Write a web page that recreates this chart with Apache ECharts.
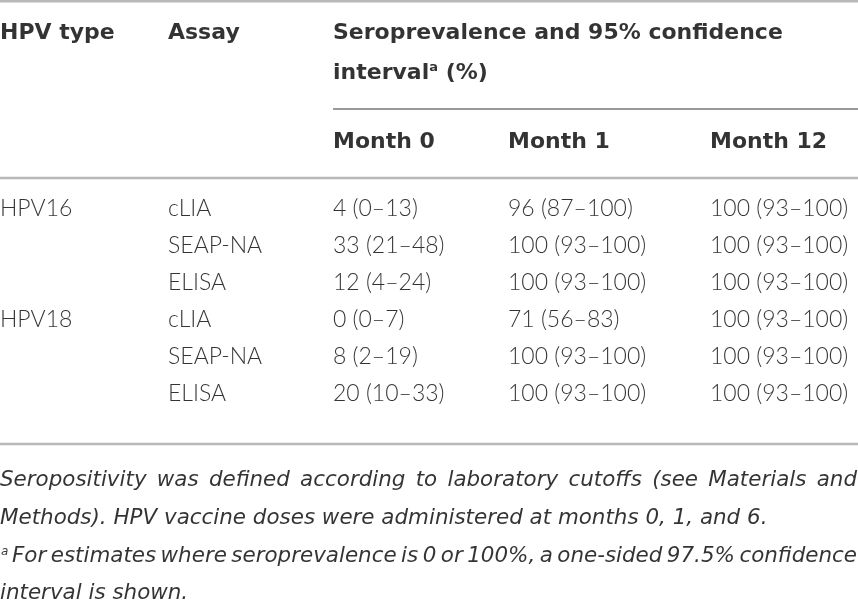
<!DOCTYPE html>
<html>
<head>
<meta charset="utf-8">
<script src="https://cdn.jsdelivr.net/npm/echarts@6/dist/echarts.min.js"></script>
<style>
  html, body { margin: 0; padding: 0; background: #fff; }
  #chart { width: 858px; height: 602px; }
</style>
</head>
<body>
<div id="chart"></div>
<script>
// table content
const hpvTypes = ["HPV16", "", "", "HPV18", "", ""];
const assays = ["cLIA", "SEAP-NA", "ELISA", "cLIA", "SEAP-NA", "ELISA"];
const monthLabels = ["Month 0", "Month 1", "Month 12"];

const month0Est = [4, 33, 12, 0, 8, 20];
const month0Lo = [0, 21, 4, 0, 2, 10];
const month0Hi = [13, 48, 24, 7, 19, 33];
const month1Est = [96, 100, 100, 71, 100, 100];
const month1Lo = [87, 93, 93, 56, 93, 93];
const month1Hi = [100, 100, 100, 83, 100, 100];
const month12Est = [100, 100, 100, 100, 100, 100];
const month12Lo = [93, 93, 93, 93, 93, 93];
const month12Hi = [100, 100, 100, 100, 100, 100];

const footLine1 = "Seropositivity was defined according to laboratory cutoffs (see Materials and";
const footLine2 = "Methods). HPV vaccine doses were administered at months 0, 1, and 6.";
const footLine3 = "For estimates where seroprevalence is 0 or 100%, a one-sided 97.5% confidence";
const footLine4 = "interval is shown.";

// layout
const W = 858, H = 602;
const colX = [0, 168, 333, 508, 710];
const rowY0 = 209, rowStep = 37;
const bodyFont = "Lato";
const headFont = "'DejaVu Sans'";
const footFont = "'DejaVu Sans'";

function fmt(e, lo, hi) {
  return e + " (" + lo + "\u2013" + hi + ")";
}

const cells = [];
function cell(x, y, text, kind) {
  cells.push({ value: [x, y], text: text, kind: kind });
}

cell(colX[0], 33, "HPV type", "head");
cell(colX[1], 33, "Assay", "head");
cell(colX[2], 33, "Seroprevalence and 95% confidence", "head");
cell(colX[2], 73, "interval{sup|a} (%)", "head");
monthLabels.forEach((m, i) => cell(colX[i + 2], 142, m, "head"));

for (let r = 0; r < assays.length; r++) {
  let y = rowY0 + r * rowStep;
  if (hpvTypes[r]) cell(colX[0], y, hpvTypes[r], "body");
  cell(colX[1], y, assays[r], "body");
  cell(colX[2], y, fmt(month0Est[r], month0Lo[r], month0Hi[r]), "body");
  cell(colX[3], y, fmt(month1Est[r], month1Lo[r], month1Hi[r]), "body");
  cell(colX[4], y, fmt(month12Est[r], month12Lo[r], month12Hi[r]), "body");
}

// footnote: size the font so the unjustified second line ends where the original does
const ctx = document.createElement("canvas").getContext("2d");
function footCss(size) { return "italic 200 " + size + "px " + footFont; }
ctx.font = footCss(20);
const footSize = Math.min(22, 20 * 768 / ctx.measureText(footLine2).width);

function placeLine(text, x0, x1, y, justify) {
  ctx.font = footCss(footSize);
  const words = text.split(" ");
  const widths = words.map((w) => ctx.measureText(w).width);
  const total = widths.reduce((a, b) => a + b, 0);
  const space = ctx.measureText(" ").width;
  const gap = justify ? Math.max(space * 0.5, (x1 - x0 - total) / (words.length - 1)) : space;
  let x = x0;
  words.forEach((w, i) => {
    cell(x, y, w, "foot");
    x += widths[i] + gap;
  });
}
placeLine(footLine1, 0, W - 1, 480, true);
placeLine(footLine2, 0, W, 518, false);
cell(1, 552, "a", "footsup");
placeLine(footLine3, 12, W - 1, 556, true);
placeLine(footLine4, 0, W, 593, false);

const styles = {
  head: { fontFamily: headFont, fontWeight: "bold", fontSize: 22, color: "#000" },
  body: { fontFamily: bodyFont, fontWeight: 300, fontSize: 23, color: "#000" },
  foot: { fontFamily: footFont, fontWeight: 200, fontStyle: "italic", fontSize: footSize, color: "#000" },
  footsup: { fontFamily: footFont, fontWeight: 200, fontStyle: "italic", fontSize: 12, color: "#000" }
};

const rules = [
  { x1: 0, x2: W, y: 1, w: 3, c: "#b8b8b8" },
  { x1: colX[2], x2: W, y: 109, w: 2, c: "#999" },
  { x1: 0, x2: W, y: 178, w: 2.5, c: "#b8b8b8" },
  { x1: 0, x2: W, y: 444, w: 2.5, c: "#b8b8b8" }
];

const chart = echarts.init(document.getElementById("chart"));
chart.setOption({
  animation: false,
  grid: { left: 0, right: 0, top: 0, bottom: 0 },
  xAxis: { type: "value", min: 0, max: W, show: false },
  yAxis: { type: "value", min: 0, max: H, inverse: true, show: false },
  series: rules.map((l) => ({
    type: "line",
    data: [[l.x1, l.y], [l.x2, l.y]],
    symbol: "none",
    silent: true,
    lineStyle: { color: l.c, width: l.w }
  })).concat([{
    type: "scatter",
    symbolSize: 0,
    silent: true,
    data: cells.map((c) => ({
      value: c.value,
      label: Object.assign({
        show: true,
        position: "inside",
        align: "left",
        verticalAlign: "middle",
        formatter: c.text,
        rich: {
          sup: { fontFamily: headFont, fontWeight: "bold", fontSize: 13, color: "#000", padding: [0, 0, 10, 0] }
        }
      }, styles[c.kind])
    }))
  }])
});
</script>
</body>
</html>
